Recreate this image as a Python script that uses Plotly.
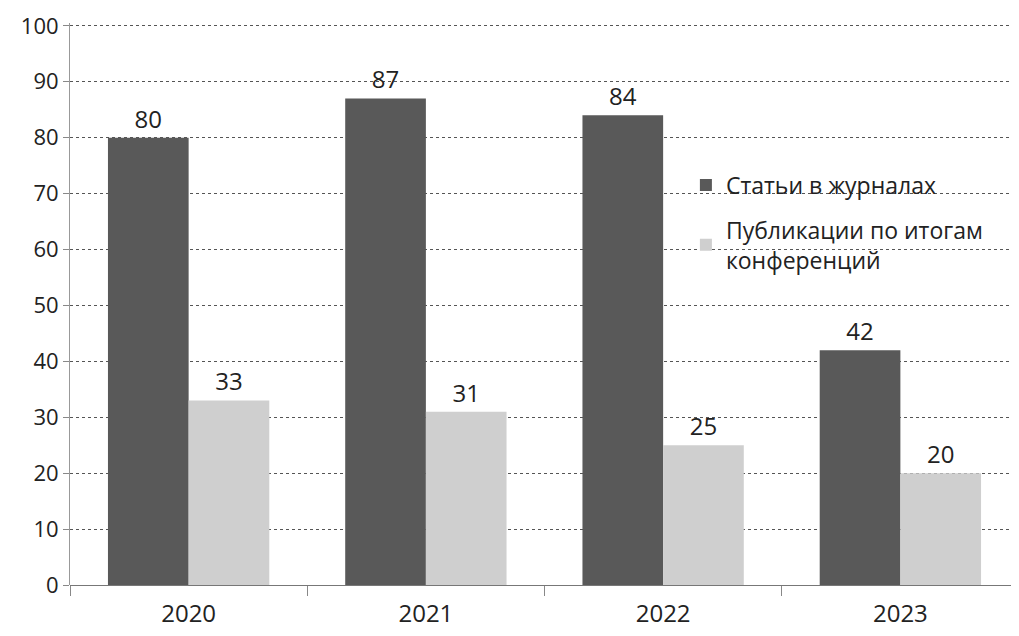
import plotly.graph_objects as go

years = ["2020", "2021", "2022", "2023"]
journals = [80, 87, 84, 42]
conferences = [33, 31, 25, 20]
name_journals = "Статьи в журналах"
name_conf = "Публикации по итогам<br>конференций"
y_ticks = [0, 10, 20, 30, 40, 50, 60, 70, 80, 90, 100]

font_family = "Open Sans, Liberation Sans, sans-serif"

fig = go.Figure()
fig.add_trace(go.Bar(
    x=years, y=journals, name=name_journals, legendgroup="a",
    marker=dict(color="#595959", line=dict(width=0)),
    text=journals, textposition="outside",
    textfont=dict(size=24, color="#222", family=font_family),
    cliponaxis=False,
))
fig.add_trace(go.Bar(
    x=years, y=conferences, name=name_conf, legendgroup="b",
    marker=dict(color="#cfcfcf", line=dict(width=0)),
    text=conferences, textposition="outside",
    textfont=dict(size=24, color="#222", family=font_family),
    cliponaxis=False,
))

fig.update_layout(
    width=1019, height=636,
    margin=dict(l=62, r=8, t=15, b=59),
    paper_bgcolor="white", plot_bgcolor="white",
    barmode="group", bargap=0.32, bargroupgap=0,
    font=dict(family=font_family, size=22, color="#222"),
    legend=dict(
        x=0.649, y=0.75, xanchor="left", yanchor="top",
        bgcolor="rgba(255,255,255,0)",
        font=dict(size=23, color="#222"),
        itemsizing="constant", traceorder="grouped", tracegroupgap=12,
    ),
    xaxis=dict(
        showgrid=False, ticks="outside", tickson="boundaries",
        ticklen=10, tickcolor="#888",
        tickfont=dict(size=24, color="#222"),
        ticklabelstandoff=12,
        showline=False,
    ),
    yaxis=dict(
        range=[0, 100.5], tickmode="array", tickvals=y_ticks,
        ticktext=[str(v) for v in y_ticks],
        automargin=False, ticklabeloverflow="allow",
        showgrid=True, gridcolor="#555", griddash="dot", gridwidth=1,
        zeroline=True, zerolinecolor="#777", zerolinewidth=1,
        showline=True, linecolor="#999", linewidth=1,
        ticks="outside", ticklen=6, tickcolor="#888",
        tickfont=dict(size=22, color="#222"),
    ),
)

fig.write_html("out.html")
